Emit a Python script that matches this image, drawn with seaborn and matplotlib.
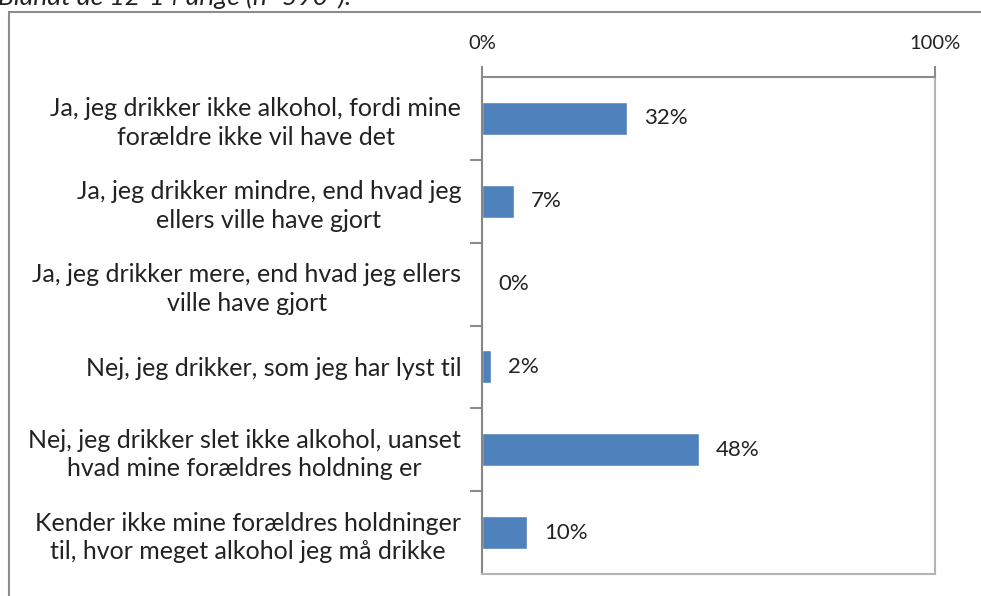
import matplotlib
matplotlib.use("Agg")
import matplotlib.pyplot as plt
import seaborn as sns
from matplotlib.patches import Rectangle
from matplotlib.ticker import FixedLocator

# data
kategorier = [
    "Ja, jeg drikker ikke alkohol, fordi mine\nforældre ikke vil have det",
    "Ja, jeg drikker mindre, end hvad jeg\nellers ville have gjort",
    "Ja, jeg drikker mere, end hvad jeg ellers\nville have gjort",
    "Nej, jeg drikker, som jeg har lyst til",
    "Nej, jeg drikker slet ikke alkohol, uanset\nhvad mine forældres holdning er",
    "Kender ikke mine forældres holdninger\ntil, hvor meget alkohol jeg må drikke",
]
andele = [0.32, 0.07, 0.00, 0.02, 0.48, 0.10]
x_ticks = [0, 1]
x_labels = ["0%", "100%"]

sns.set_theme(style="white")
plt.rcParams['font.family'] = ['Lato', 'DejaVu Sans']

fig = plt.figure(figsize=(9.81, 5.96), dpi=100)
ax = fig.add_axes([482/981, 1 - 574/596, (935 - 482)/981, (574 - 77)/596])

sns.barplot(x=andele, y=kategorier, color="#4F81BD", saturation=1,
            width=0.4, orient="h", ax=ax)

ax.set_xlim(0, 1)
ax.set_ylim(len(kategorier) - 0.5, -0.5)

# x-akse øverst
ax.xaxis.tick_top()
ax.set_xticks(x_ticks)
ax.set_xticklabels(x_labels, fontsize=14.5, color="#222222")
ax.tick_params(axis="x", direction="out", length=8, width=1.5,
               color="#8c8c8c", pad=10)

# y-akse: etiketter uden streger, små streger mellem kategorierne
ax.tick_params(axis="y", which="major", length=0, pad=15)
ax.yaxis.set_minor_locator(FixedLocator([i + 0.5 for i in range(len(kategorier) - 1)]))
ax.tick_params(axis="y", which="minor", direction="out", length=9, width=1.5,
               color="#8c8c8c", left=True)
for lbl in ax.get_yticklabels():
    lbl.set_fontsize(18)
    lbl.set_color("#222222")
    lbl.set_multialignment("center")
    lbl.set_linespacing(1.3)

for side, col in [("left", "#868686"), ("top", "#8c8c8c"),
                  ("right", "#b4b4b4"), ("bottom", "#b4b4b4")]:
    ax.spines[side].set_visible(True)
    ax.spines[side].set_color(col)
    ax.spines[side].set_linewidth(1.5)

ax.set_xlabel("")
ax.set_ylabel("")

# dataetiketter
for i, v in enumerate(andele):
    ax.annotate(f"{v:.0%}", (v, i), xytext=(12, 0), textcoords="offset points",
                va="center", ha="left", fontsize=16, color="#222222")

# ramme og afskåret overskrift
fig.add_artist(Rectangle((9/981, -0.1), 1.0, 1 - 12/596 + 0.1,
                         transform=fig.transFigure, fill=False,
                         edgecolor="#8c8c8c", linewidth=1.5))
fig.text(-0.002, 1 - 5/596, "Blandt de 12-14 årige (n=590*).", fontsize=19,
         style="italic", va="baseline", ha="left", color="#222222")

fig.savefig("out.png", dpi=100)
